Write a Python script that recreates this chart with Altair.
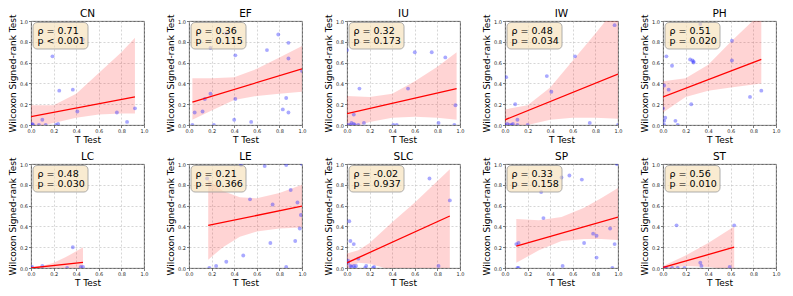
import altair as alt
import pandas as pd

PANELS = ["CN", "EF", "IU", "IW", "PH", "LC", "LE", "SLC", "SP", "ST"]
RHO = ["0.71", "0.36", "0.32", "0.48", "0.51", "0.48", "0.21", "-0.02", "0.33", "0.56"]
PVAL = ["< 0.001", "= 0.115", "= 0.173", "= 0.034", "= 0.020", "= 0.030", "= 0.366", "= 0.937", "= 0.158", "= 0.010"]

# scatter points (T Test p, Wilcoxon p)
CN_X = [0.0, 0.01, 0.02, 0.07, 0.10, 0.13, 0.19, 0.22, 0.24, 0.25, 0.37, 0.41, 0.46, 0.76, 0.85, 0.92]
CN_Y = [0.0, 0.01, 0.0, 0.0, 0.05, 0.0, 0.66, 0.0, 0.01, 0.33, 0.34, 0.13, 0.82, 0.12, 0.03, 0.16]
EF_X = [0.03, 0.05, 0.12, 0.14, 0.19, 0.19, 0.22, 0.33, 0.41, 0.41, 0.40, 0.55, 0.69, 0.79, 0.83, 0.86, 0.88, 0.88, 0.88, 1.0]
EF_Y = [0.0, 0.12, 0.13, 0.25, 0.30, 0.74, 0.0, 0.88, 0.67, 0.25, 0.05, 0.03, 0.72, 0.87, 0.15, 0.26, 0.79, 0.64, 0.12, 0.52]
IU_X = [0.0, 0.01, 0.03, 0.04, 0.06, 0.07, 0.06, 0.11, 0.10, 0.15, 0.41, 0.44, 0.54, 0.60, 0.75, 0.81, 0.87, 0.95, 0.96]
IU_Y = [0.72, 0.0, 0.0, 0.02, 0.01, 0.0, 0.10, 0.35, 0.0, 0.02, 0.0, 0.0, 0.35, 0.70, 0.70, 0.02, 0.65, 0.0, 0.19]
IW_X = [0.0, 0.01, 0.02, 0.04, 0.06, 0.07, 0.09, 0.11, 0.11, 0.20, 0.37, 0.41, 0.62, 0.75, 0.97, 1.0]
IW_Y = [0.0, 0.46, 0.01, 0.0, 0.0, 0.01, 0.20, 0.05, 0.0, 0.0, 0.47, 0.32, 0.66, 0.02, 0.96, 0.0]
PH_X = [0.0, 0.01, 0.01, 0.01, 0.02, 0.03, 0.05, 0.08, 0.11, 0.13, 0.24, 0.25, 0.26, 0.27, 0.27, 0.33, 0.61, 0.61, 0.77, 0.87]
PH_Y = [0.16, 0.38, 0.04, 0.0, 0.07, 0.66, 0.34, 0.57, 0.04, 0.0, 0.63, 0.20, 0.62, 0.60, 0.61, 0.97, 0.81, 0.62, 0.27, 0.33]
LC_X = [0.0, 0.01, 0.10, 0.32, 0.37, 0.44, 0.46]
LC_Y = [0.0, 0.01, 0.02, 0.0, 0.20, 0.01, 0.01]
LE_X = [0.16, 0.18, 0.24, 0.33, 0.46, 0.48, 0.54, 0.67, 0.72, 0.74, 0.86, 0.86, 0.90, 0.94, 0.96, 0.98, 0.99, 1.0]
LE_Y = [0.86, 0.0, 0.02, 0.06, 0.99, 0.12, 0.66, 0.98, 0.24, 0.61, 0.99, 0.01, 0.75, 0.26, 0.63, 0.38, 0.51, 1.0]
SLC_X = [0.01, 0.01, 0.02, 0.03, 0.06, 0.03, 0.04, 0.06, 0.07, 0.08, 0.10, 0.16, 0.17, 0.23, 0.24, 0.73, 0.81, 0.91]
SLC_Y = [0.07, 0.05, 0.45, 0.26, 0.23, 0.02, 0.01, 0.02, 0.0, 0.02, 0.09, 0.0, 0.02, 0.0, 0.01, 0.86, 0.02, 0.65]
SP_X = [0.10, 0.12, 0.11, 0.12, 0.32, 0.34, 0.50, 0.51, 0.57, 0.68, 0.70, 0.78, 0.81, 0.81, 0.93, 0.95, 0.97, 0.99]
SP_Y = [0.23, 0.24, 0.0, 0.0, 0.73, 0.48, 0.87, 0.02, 0.89, 0.85, 0.24, 0.33, 0.31, 0.10, 0.38, 0.0, 0.23, 1.0]
ST_X = [0.01, 0.02, 0.03, 0.08, 0.12, 0.13, 0.19, 0.33, 0.34, 0.59, 0.63]
ST_Y = [0.0, 0.0, 0.0, 0.0, 0.41, 0.0, 0.0, 0.05, 0.02, 0.01, 0.41]

# regression line end points
LINE_X0 = [0.0, 0.03, 0.0, 0.0, 0.0, 0.0, 0.17, 0.0, 0.10, 0.0]
LINE_Y0 = [0.08, 0.22, 0.11, 0.05, 0.27, 0.0, 0.41, 0.05, 0.21, 0.005]
LINE_X1 = [0.92, 1.0, 0.97, 1.0, 0.87, 0.46, 1.0, 0.91, 1.0, 0.63]
LINE_Y1 = [0.27, 0.54, 0.35, 0.49, 0.63, 0.055, 0.595, 0.50, 0.49, 0.20]

# confidence bands
CN_BX = [0.0, 0.2, 0.4, 0.6, 0.8, 0.92]
CN_LO = [-0.03, 0.02, 0.07, 0.10, 0.11, 0.11]
CN_HI = [0.19, 0.19, 0.30, 0.50, 0.70, 0.84]
EF_BX = [0.03, 0.2, 0.4, 0.6, 0.8, 1.0]
EF_LO = [0.05, 0.14, 0.24, 0.28, 0.30, 0.32]
EF_HI = [0.45, 0.45, 0.46, 0.54, 0.65, 0.76]
IU_BX = [0.0, 0.2, 0.4, 0.6, 0.8, 0.97]
IU_LO = [-0.04, 0.03, 0.07, 0.08, 0.07, 0.05]
IU_HI = [0.28, 0.27, 0.30, 0.42, 0.56, 0.70]
IW_BX = [0.0, 0.2, 0.4, 0.6, 0.8, 1.0]
IW_LO = [-0.05, 0.0, 0.05, 0.07, 0.07, 0.06]
IW_HI = [0.15, 0.19, 0.36, 0.62, 0.88, 1.15]
PH_BX = [0.0, 0.2, 0.4, 0.6, 0.87]
PH_LO = [0.12, 0.27, 0.33, 0.36, 0.40]
PH_HI = [0.42, 0.45, 0.58, 0.80, 1.08]
LC_BX = [0.0, 0.1, 0.2, 0.3, 0.4, 0.46]
LC_LO = [-0.01, 0.0, 0.0, -0.01, -0.02, -0.03]
LC_HI = [0.01, 0.02, 0.05, 0.10, 0.16, 0.20]
LE_BX = [0.17, 0.3, 0.45, 0.6, 0.8, 1.0]
LE_LO = [0.08, 0.20, 0.30, 0.35, 0.38, 0.39]
LE_HI = [0.85, 0.74, 0.68, 0.67, 0.72, 0.80]
SLC_BX = [0.0, 0.1, 0.2, 0.4, 0.6, 0.91]
SLC_LO = [-0.02, 0.05, 0.04, -0.02, -0.05, -0.10]
SLC_HI = [0.14, 0.17, 0.24, 0.44, 0.63, 0.95]
SP_BX = [0.1, 0.3, 0.5, 0.7, 0.85, 1.0]
SP_LO = [0.05, 0.17, 0.26, 0.28, 0.28, 0.27]
SP_HI = [0.47, 0.46, 0.49, 0.58, 0.67, 0.77]
ST_BX = [0.0, 0.2, 0.4, 0.63]
ST_LO = [-0.01, 0.02, 0.01, -0.02]
ST_HI = [0.02, 0.12, 0.24, 0.40]

POINTS = {
    "CN": (CN_X, CN_Y), "EF": (EF_X, EF_Y), "IU": (IU_X, IU_Y), "IW": (IW_X, IW_Y),
    "PH": (PH_X, PH_Y), "LC": (LC_X, LC_Y), "LE": (LE_X, LE_Y), "SLC": (SLC_X, SLC_Y),
    "SP": (SP_X, SP_Y), "ST": (ST_X, ST_Y),
}
BANDS = {
    "CN": (CN_BX, CN_LO, CN_HI), "EF": (EF_BX, EF_LO, EF_HI), "IU": (IU_BX, IU_LO, IU_HI),
    "IW": (IW_BX, IW_LO, IW_HI), "PH": (PH_BX, PH_LO, PH_HI), "LC": (LC_BX, LC_LO, LC_HI),
    "LE": (LE_BX, LE_LO, LE_HI), "SLC": (SLC_BX, SLC_LO, SLC_HI), "SP": (SP_BX, SP_LO, SP_HI),
    "ST": (ST_BX, ST_LO, ST_HI),
}

W, H = 113, 104
TICKS = [0.0, 0.2, 0.4, 0.6, 0.8, 1.0]

xscale = alt.Scale(domain=[0, 1], nice=False, zero=False)
yscale = alt.Scale(domain=[0, 1], nice=False, zero=False)
xaxis = alt.Axis(values=TICKS, format=".1f", title="T Test", labelFlush=False)
yaxis = alt.Axis(values=TICKS, format=".1f", title="Wilcoxon Signed-rank Test")


def panel(i):
    name = PANELS[i]
    px, py = POINTS[name]
    bx, blo, bhi = BANDS[name]
    pts = pd.DataFrame({"x": px, "y": py})
    band = pd.DataFrame({"x": bx, "lo": blo, "hi": bhi})
    line = pd.DataFrame({"x": [LINE_X0[i], LINE_X1[i]], "y": [LINE_Y0[i], LINE_Y1[i]]})
    info = pd.DataFrame({"r": ["ρ = " + RHO[i]], "p": ["p " + PVAL[i]], "name": [name]})

    band_m = alt.Chart(band).mark_area(color="red", opacity=0.17, clip=True).encode(
        x=alt.X("x:Q", scale=xscale, axis=xaxis),
        y=alt.Y("lo:Q", scale=yscale, axis=yaxis),
        y2="hi:Q",
    )
    pts_m = alt.Chart(pts).mark_circle(color="#3333ff", opacity=0.42, size=15, clip=True).encode(
        x=alt.X("x:Q", scale=xscale, axis=xaxis),
        y=alt.Y("y:Q", scale=yscale, axis=yaxis),
    )
    line_m = alt.Chart(line).mark_line(color="red", strokeWidth=1.3, clip=True).encode(
        x=alt.X("x:Q", scale=xscale, axis=xaxis),
        y=alt.Y("y:Q", scale=yscale, axis=yaxis),
    )
    box = alt.Chart(info).mark_rect(
        fill="#f5deb3", fillOpacity=0.6, stroke="#999999", strokeWidth=0.8, cornerRadius=4
    ).encode(x=alt.value(2), x2=alt.value(57), y=alt.value(1.5), y2=alt.value(28))
    t1 = alt.Chart(info).mark_text(align="left", baseline="middle", fontSize=9.5, color="black").encode(
        x=alt.value(6.5), y=alt.value(9.8), text="r:N"
    )
    t2 = alt.Chart(info).mark_text(align="left", baseline="middle", fontSize=9.5, color="black").encode(
        x=alt.value(6.5), y=alt.value(19.8), text="p:N"
    )
    ttl = alt.Chart(info).mark_text(align="center", baseline="bottom", fontSize=10.5, color="black").encode(
        x=alt.value(W / 2), y=alt.value(-2), text="name:N"
    )
    return alt.layer(band_m, pts_m, line_m, box, t1, t2, ttl).properties(width=W, height=H)


chart = alt.concat(
    *[panel(i) for i in range(10)],
    columns=5,
    spacing=alt.RowColnumber(row=39, column=45),
    bounds="flush",
).properties(padding=0).configure(
    font="DejaVu Sans"
).configure_view(
    stroke="#444444", strokeWidth=0.9
).configure_axis(
    domain=False,
    grid=True,
    gridColor="#bbbbbb",
    gridDash=[2, 2],
    gridWidth=0.6,
    labelFontSize=5,
    labelColor="#222222",
    labelPadding=1,
    tickSize=2.5,
    tickColor="#444444",
    tickWidth=0.7,
    titleFontSize=9,
    titleFontWeight="normal",
    titleColor="black",
    titlePadding=2,
)

chart.save("out.html", embed_options={"renderer": "svg", "actions": False})
